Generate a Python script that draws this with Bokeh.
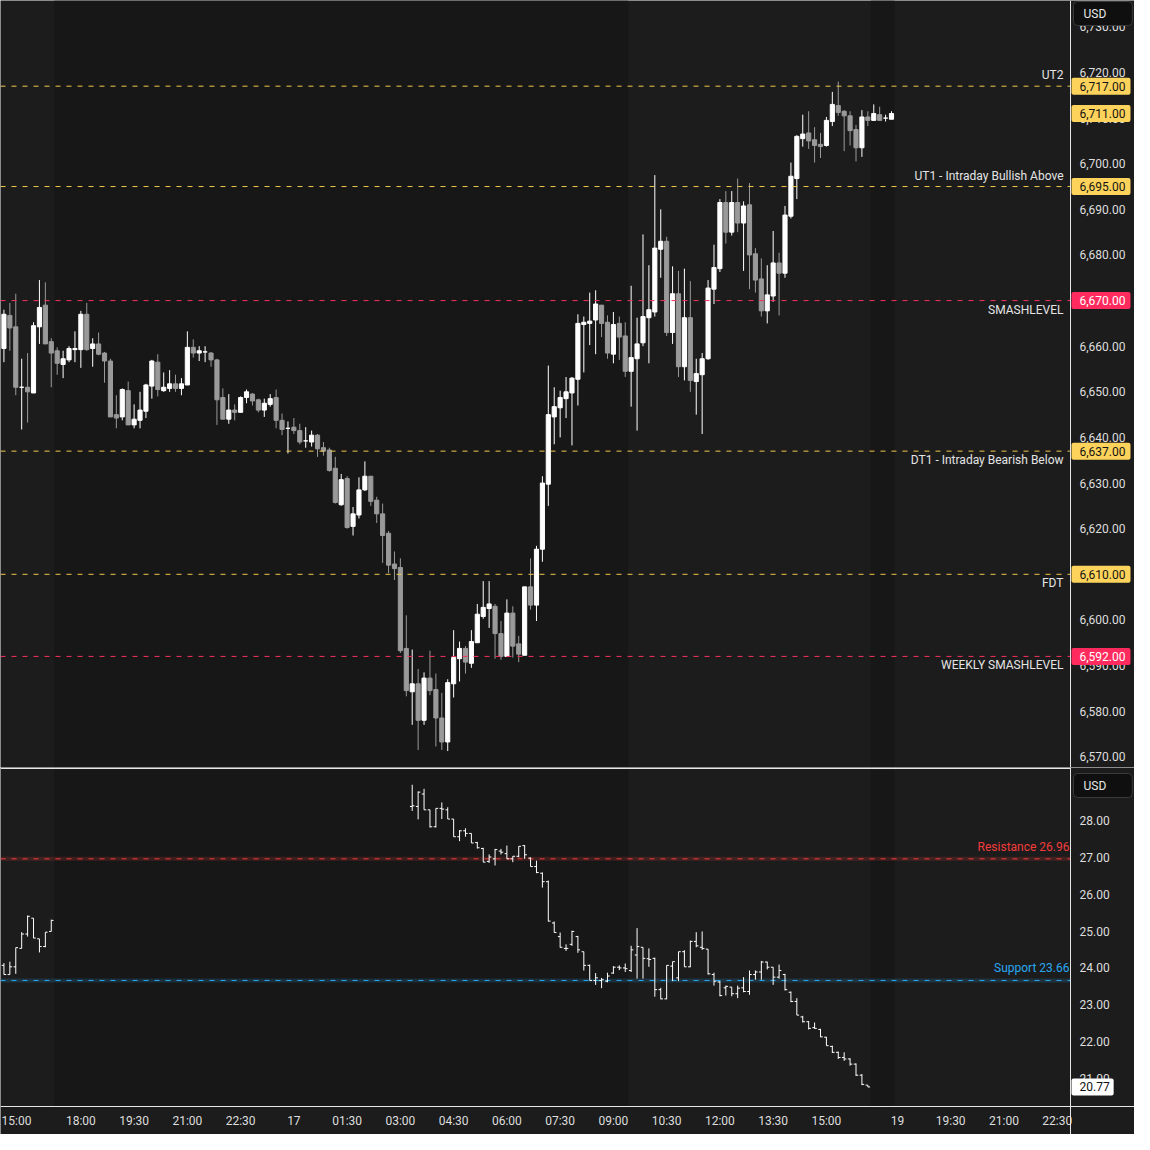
import pandas as pd
import numpy as np
from bokeh.plotting import figure
from bokeh.layouts import column
from bokeh.models import Range1d, Span, Label, ColumnDataSource
from bokeh.core.properties import value
from bokeh.embed import file_html
from bokeh.resources import INLINE

# ---------------- DATA ----------------
# trading sessions shown on the time axis (10-minute bars)
sessions = [("2025-10-16 14:50", "2025-10-16 16:50"),
            ("2025-10-16 18:00", "2025-10-17 16:50"),
            ("2025-10-19 18:00", "2025-10-19 23:50")]

es_first_bar = "2025-10-16 14:50"
es_open = [
    6659.5, 6666.75, 6664.25, 6651.0, 6651.0, 6649.75, 6664.25, 6669.0, 6661.0, 6659.0,
    6656.0, 6657.0, 6659.25, 6659.25, 6667.0, 6659.5, 6660.5, 6658.5, 6656.75, 6645.0,
    6644.5, 6650.25, 6642.75, 6643.75, 6645.75, 6651.25, 6656.5, 6650.25, 6650.75, 6651.75,
    6650.75, 6651.5, 6659.75, 6658.5, 6658.75, 6658.5, 6657.0, 6648.75, 6644.0, 6646.0,
    6645.5, 6648.75, 6649.5, 6648.25, 6646.0, 6647.25, 6648.75, 6643.75, 6642.0, 6642.25,
    6641.5, 6639.25, 6639.0, 6640.5, 6637.75, 6637.25, 6633.25, 6625.25, 6631.0, 6620.5,
    6623.0, 6628.5, 6631.5, 6626.25, 6623.25, 6619.0, 6612.25, 6611.5, 6593.75, 6584.25,
    6586.0, 6578.0, 6587.25, 6584.75, 6578.5, 6573.25, 6586.0, 6591.5, 6593.75, 6590.5,
    6595.0, 6600.75, 6602.5, 6603.0, 6597.0, 6592.0, 6601.5, 6594.75, 6592.25, 6607.25,
    6603.25, 6615.5, 6629.75, 6644.5, 6646.5, 6648.5, 6649.75, 6652.75, 6664.75, 6665.0,
    6665.75, 6669.0, 6665.25, 6658.25, 6665.0, 6662.25, 6654.5, 6657.25, 6660.75, 6666.25,
    6667.5, 6681.25, 6683.0, 6663.0, 6671.5, 6655.5, 6666.25, 6652.25, 6653.75, 6657.25,
    6672.5, 6677.0, 6691.5, 6685.0, 6691.5, 6687.0, 6691.0, 6680.25, 6674.75, 6667.75,
    6671.0, 6678.25, 6676.0, 6688.5, 6696.75, 6705.5, 6706.75, 6705.25, 6704.25, 6704.0,
    6709.25, 6712.75, 6711.5, 6710.5, 6707.5, 6703.5, 6710.25, 6709.5, 6710.75, 6710.0,
    6709.75]
es_high = [
    6668.0, 6669.5, 6671.5, 6657.25, 6658.5, 6665.25, 6674.5, 6674.0, 6661.75, 6659.75,
    6659.0, 6660.0, 6663.25, 6667.75, 6669.5, 6661.75, 6663.0, 6658.75, 6657.25, 6649.25,
    6650.75, 6652.25, 6647.25, 6650.0, 6651.75, 6657.0, 6658.25, 6654.25, 6654.75, 6653.75,
    6653.0, 6663.25, 6661.5, 6660.0, 6660.0, 6658.75, 6657.25, 6650.75, 6649.5, 6647.25,
    6649.0, 6650.5, 6649.75, 6648.5, 6648.5, 6649.5, 6650.5, 6645.25, 6643.5, 6644.25,
    6643.0, 6642.25, 6641.5, 6640.75, 6639.0, 6637.75, 6635.75, 6632.0, 6631.5, 6624.75,
    6631.25, 6634.75, 6631.5, 6627.0, 6625.5, 6619.5, 6615.0, 6613.5, 6601.0, 6593.5,
    6589.25, 6588.5, 6593.25, 6588.25, 6584.0, 6587.0, 6597.75, 6595.25, 6594.25, 6597.75,
    6603.5, 6608.5, 6608.5, 6603.5, 6599.75, 6604.5, 6603.0, 6596.5, 6607.25, 6613.5,
    6616.25, 6631.5, 6655.75, 6651.0, 6650.25, 6653.25, 6653.25, 6667.0, 6666.5, 6671.75,
    6672.25, 6669.0, 6666.75, 6667.5, 6666.5, 6665.25, 6673.25, 6666.25, 6684.5, 6677.75,
    6697.5, 6690.0, 6684.0, 6677.5, 6676.5, 6677.0, 6674.25, 6657.25, 6658.5, 6674.5,
    6682.25, 6692.25, 6694.0, 6694.0, 6696.75, 6691.75, 6695.75, 6681.5, 6679.25, 6677.75,
    6685.25, 6680.5, 6690.75, 6700.25, 6706.25, 6710.75, 6711.5, 6708.0, 6706.75, 6710.25,
    6715.75, 6718.0, 6711.75, 6711.5, 6708.5, 6711.75, 6711.5, 6713.0, 6712.5, 6710.75,
    6711.5]
es_low = [
    6656.5, 6659.0, 6649.25, 6641.75, 6643.25, 6649.75, 6660.5, 6660.5, 6651.0, 6653.75,
    6653.0, 6656.5, 6656.5, 6655.25, 6659.0, 6655.5, 6658.0, 6652.0, 6644.5, 6642.0,
    6643.75, 6642.75, 6642.0, 6642.0, 6644.25, 6648.5, 6649.0, 6650.0, 6650.0, 6650.0,
    6649.25, 6651.5, 6657.5, 6656.75, 6656.5, 6655.5, 6642.75, 6644.0, 6643.0, 6643.75,
    6645.5, 6647.5, 6647.0, 6645.5, 6644.5, 6646.75, 6642.0, 6640.5, 6636.5, 6640.75,
    6638.5, 6637.75, 6638.0, 6635.75, 6636.0, 6632.5, 6625.5, 6625.0, 6620.0, 6618.5,
    6622.25, 6628.25, 6625.0, 6621.25, 6612.5, 6610.25, 6608.75, 6592.75, 6583.25, 6577.0,
    6571.5, 6577.0, 6583.5, 6572.25, 6571.5, 6571.25, 6583.0, 6586.5, 6588.25, 6589.5,
    6595.0, 6600.25, 6598.25, 6591.5, 6591.25, 6592.0, 6591.75, 6590.75, 6592.25, 6602.25,
    6599.75, 6612.75, 6625.0, 6638.5, 6640.0, 6644.25, 6638.25, 6647.0, 6654.25, 6660.25,
    6658.25, 6662.0, 6657.25, 6656.25, 6657.0, 6653.25, 6646.75, 6641.5, 6660.0, 6656.25,
    6666.5, 6675.0, 6662.25, 6660.5, 6653.25, 6652.5, 6650.0, 6645.0, 6640.75, 6657.0,
    6669.25, 6676.25, 6682.5, 6684.25, 6685.0, 6676.5, 6672.5, 6671.75, 6666.5, 6665.0,
    6669.75, 6666.75, 6675.0, 6688.0, 6692.25, 6703.75, 6703.25, 6700.25, 6701.25, 6703.75,
    6708.25, 6710.5, 6702.75, 6704.0, 6700.5, 6701.5, 6708.25, 6709.5, 6709.5, 6709.25,
    6709.75]
es_close = [
    6667.0, 6664.0, 6651.0, 6651.0, 6650.0, 6664.5, 6668.5, 6660.5, 6658.5, 6656.25,
    6657.25, 6659.5, 6659.5, 6667.0, 6659.25, 6660.5, 6658.25, 6656.75, 6644.5, 6644.25,
    6650.5, 6642.75, 6644.0, 6646.0, 6651.5, 6656.75, 6650.5, 6651.0, 6651.75, 6650.75,
    6651.75, 6659.75, 6658.5, 6659.0, 6658.75, 6657.0, 6648.25, 6644.0, 6646.0, 6645.5,
    6648.75, 6650.0, 6648.0, 6646.0, 6647.5, 6648.5, 6643.75, 6641.75, 6642.0, 6641.5,
    6639.0, 6639.25, 6640.5, 6637.5, 6637.0, 6632.75, 6625.75, 6630.75, 6620.25, 6623.25,
    6628.5, 6631.5, 6626.0, 6623.25, 6618.5, 6612.0, 6611.25, 6593.25, 6584.5, 6586.0,
    6578.0, 6587.25, 6584.5, 6578.5, 6573.25, 6586.25, 6591.75, 6593.75, 6590.75, 6595.25,
    6601.25, 6602.75, 6603.5, 6597.0, 6592.0, 6601.5, 6594.25, 6592.5, 6607.25, 6603.25,
    6615.5, 6630.0, 6645.0, 6646.75, 6648.75, 6650.0, 6653.0, 6665.0, 6665.25, 6665.5,
    6669.25, 6665.0, 6658.5, 6664.75, 6662.0, 6654.5, 6657.5, 6660.5, 6666.5, 6668.0,
    6681.5, 6683.0, 6663.0, 6671.5, 6655.5, 6666.25, 6652.5, 6654.0, 6657.25, 6672.75,
    6677.25, 6691.5, 6685.0, 6691.5, 6687.0, 6690.75, 6680.0, 6674.5, 6667.75, 6671.25,
    6678.25, 6676.0, 6688.75, 6697.25, 6706.0, 6706.5, 6705.0, 6704.0, 6703.75, 6709.5,
    6713.0, 6711.25, 6710.5, 6707.25, 6703.5, 6710.25, 6709.5, 6711.0, 6709.5, 6710.0,
    6711.0]

vix_sessions = [("2025-10-16 14:50", "2025-10-16 16:10"),
                ("2025-10-17 03:20", "2025-10-17 16:10")]
vix_open = [
    24.07, 23.82, 24.03, 24.53, 24.92, 25.35, 24.79, 24.58, 24.99,
    28.38, 28.38, 28.72, 28.29, 27.83, 28.33, 28.29, 28.04, 27.56, 27.72,
    27.65, 27.40, 27.24, 26.89, 26.96, 27.17, 27.10, 26.96, 27.03, 27.32,
    26.98, 26.75, 26.57, 26.34,
    25.22, 24.85, 24.53, 24.64, 24.85, 24.44, 24.07, 23.66, 23.66, 23.64,
    23.86, 24.02, 24.00, 23.93, 24.35, 24.56, 24.25, 24.26, 23.41, 23.16,
    24.05, 23.73, 24.44, 24.03, 24.72, 24.56, 24.51, 23.82, 23.62, 23.46,
    23.48, 23.30, 23.46, 23.36, 23.82, 23.89, 24.16, 24.02, 23.75, 23.82,
    23.34, 23.09, 22.67, 22.54, 22.38, 22.33, 22.12, 21.87, 21.71, 21.57,
    21.53, 21.39, 21.09, 20.82]
vix_high = [
    24.13, 24.17, 24.55, 24.97, 25.42, 25.35, 24.79, 24.97, 25.31,
    28.97, 28.79, 28.86, 28.29, 28.33, 28.49, 28.36, 28.04, 27.74, 27.79,
    27.65, 27.42, 27.26, 27.08, 27.23, 27.23, 27.32, 27.03, 27.30, 27.33,
    27.00, 26.91, 26.59, 26.37,
    25.26, 24.96, 24.64, 25.01, 24.87, 24.44, 24.09, 23.86, 23.73, 23.87,
    24.05, 24.07, 24.12, 24.60, 25.08, 24.56, 24.53, 24.28, 23.46, 24.07,
    24.17, 24.44, 24.48, 24.74, 24.97, 24.99, 24.51, 23.87, 23.64, 23.52,
    23.48, 23.52, 23.75, 23.93, 23.93, 24.19, 24.17, 24.02, 24.09, 23.84,
    23.36, 23.18, 22.70, 22.56, 22.52, 22.35, 22.13, 21.89, 21.73, 21.71,
    21.55, 21.41, 21.12, 20.82]
vix_low = [
    23.82, 23.82, 23.84, 24.53, 24.85, 24.81, 24.42, 24.56, 24.99,
    28.26, 28.03, 28.29, 27.81, 27.81, 28.04, 28.04, 27.56, 27.44, 27.56,
    27.39, 27.24, 26.87, 26.85, 26.78, 27.08, 26.96, 26.87, 27.00, 26.96,
    26.75, 26.57, 26.18, 25.26,
    24.96, 24.55, 24.46, 24.60, 24.41, 23.93, 23.66, 23.54, 23.45, 23.61,
    23.84, 23.94, 23.89, 23.89, 23.71, 23.71, 24.03, 23.22, 23.15, 23.15,
    23.64, 23.64, 24.03, 24.02, 24.56, 24.49, 23.82, 23.52, 23.23, 23.25,
    23.23, 23.18, 23.34, 23.27, 23.68, 23.68, 23.96, 23.54, 23.71, 23.39,
    23.07, 22.72, 22.52, 22.33, 22.35, 22.12, 21.89, 21.69, 21.53, 21.48,
    21.35, 21.07, 20.82, 20.77]
vix_close = [
    23.82, 24.03, 24.55, 24.92, 25.40, 24.81, 24.58, 24.97, 25.29,
    28.40, 28.77, 28.29, 27.83, 28.33, 28.31, 28.04, 27.56, 27.72, 27.65,
    27.39, 27.26, 26.87, 27.01, 27.21, 27.14, 26.96, 27.03, 27.30, 27.07,
    26.75, 26.59, 26.34, 25.27,
    24.96, 24.56, 24.53, 24.99, 24.49, 24.07, 23.66, 23.73, 23.68, 23.78,
    24.02, 24.00, 23.98, 24.49, 24.58, 24.26, 24.23, 23.41, 23.16, 24.07,
    24.17, 24.44, 24.03, 24.72, 24.60, 24.53, 23.84, 23.64, 23.25, 23.50,
    23.30, 23.45, 23.36, 23.82, 23.89, 24.16, 24.02, 23.75, 23.93, 23.41,
    23.09, 22.72, 22.54, 22.36, 22.36, 22.13, 21.89, 21.71, 21.57, 21.53,
    21.39, 21.09, 20.84, 20.77]

es_levels = [6717, 6695, 6670, 6637, 6610, 6592]
es_level_names = ["UT2", "UT1 - Intraday Bullish Above", "SMASHLEVEL",
                  "DT1 - Intraday Bearish Below", "FDT", "WEEKLY SMASHLEVEL"]
vix_resistance = 26.96
vix_support = 23.66

es_ticks = [6570, 6580, 6590, 6600, 6610, 6620, 6630, 6640, 6650, 6660,
            6670, 6680, 6690, 6700, 6710, 6720, 6730]
vix_ticks = [21, 22, 23, 24, 25, 26, 27, 28]
time_tick_times = ["2025-10-16 15:00", "2025-10-16 18:00", "2025-10-16 19:30",
                   "2025-10-16 21:00", "2025-10-16 22:30", "2025-10-17 00:00",
                   "2025-10-17 01:30", "2025-10-17 03:00", "2025-10-17 04:30",
                   "2025-10-17 06:00", "2025-10-17 07:30", "2025-10-17 09:00",
                   "2025-10-17 10:30", "2025-10-17 12:00", "2025-10-17 13:30",
                   "2025-10-17 15:00", "2025-10-19 18:00", "2025-10-19 19:30",
                   "2025-10-19 21:00", "2025-10-19 22:30"]
time_tick_labels = ["15:00", "18:00", "19:30", "21:00", "22:30", "17", "01:30",
                    "03:00", "04:30", "06:00", "07:30", "09:00", "10:30", "12:00",
                    "13:30", "15:00", "19", "19:30", "21:00", "22:30"]

# ---------------- LAYOUT / STYLE ----------------
CHART_W = 1070          # plotting area (left of the price scale)
AXIS_W = 64             # price scale
TOTAL_W = CHART_W + AXIS_W
TOP_H = 767
SEP = 2
BOT_H = 337
XAX_H = 28
BG = "#1c1c1c"
ETH_BG = "#171717"
TXT = "#dedede"
AXLINE = "#e6e6e6"
FONT = "Roboto"
UP, DOWN = "#ffffff", "#9a9a9a"
YEL_LINE, YEL_TAG = "#f2c94c", "#fdd35b"
RED_LINE, RED_TAG = "#f7325f", "#ff2b5e"

timeline = pd.DatetimeIndex([])
for a, b in sessions:
    timeline = timeline.append(pd.date_range(a, b, freq="10min"))
loc = {t: k for k, t in enumerate(timeline)}

X0, X1 = -0.58, 180.25          # visible time window (bar positions)
PPU = CHART_W / (X1 - X0)
XR = X1 + AXIS_W / PPU          # right edge incl. price scale
ES_Y = (6567.65, 6735.78)
VIX_Y = (20.24, 29.384)
ppu_es = TOP_H / (ES_Y[1] - ES_Y[0])
ppu_vix = BOT_H / (VIX_Y[1] - VIX_Y[0])
VIX_TOP = VIX_Y[1] + SEP / ppu_vix
VIX_BOTTOM = VIX_Y[0] - XAX_H / ppu_vix     # time scale lives inside the frame

es_start = loc[pd.Timestamp(es_first_bar)]
es_x = np.arange(es_start, es_start + len(es_open))
es_times = timeline[es_start:es_start + len(es_open)]

vix_times = pd.DatetimeIndex([])
for a, b in vix_sessions:
    vix_times = vix_times.append(pd.date_range(a, b, freq="10min"))
vix_x = np.array([loc[t] for t in vix_times])


def make_fig(fh, y0, y1, shade_bottom, shade_top):
    p = figure(frame_width=TOTAL_W, frame_height=fh,
               x_range=Range1d(X0, XR), y_range=Range1d(y0, y1),
               output_backend="svg", toolbar_location=None,
               y_axis_location=None, x_axis_location=None,
               background_fill_color=BG, border_fill_color=BG,
               outline_line_color=None,
               min_border_left=0, min_border_top=0, min_border_right=0,
               min_border_bottom=0)
    p.grid.visible = False
    # extended-hours shading
    minutes = es_times.hour * 60 + es_times.minute
    rth = (minutes >= 570) & (minutes < 975)
    lefts, rights = [], []
    k, n = 0, len(es_x)
    while k < n:
        if not rth[k]:
            j = k
            while j + 1 < n and not rth[j + 1]:
                j += 1
            lefts.append(es_x[k] - 0.5)
            rights.append(es_x[j] + 0.5)
            k = j + 1
        else:
            k += 1
    p.quad(left=lefts, right=rights, bottom=shade_bottom, top=shade_top,
           fill_color=ETH_BG, line_color=None)
    return p


def price_scale(p, ticks, labels):
    p.text(x=[X1 + 9 / PPU] * len(ticks), y=ticks, text=labels,
           text_align="left", text_baseline="middle", text_color=TXT,
           text_font=value(FONT), text_font_size="12px")
    p.add_layout(Span(location=X1, dimension="height", line_color=AXLINE,
                      line_width=1))


# Label padding order: (left, right, top, bottom); anchor = box corner
def tag(p, val, text, bg, fg, right_pad=5):
    p.add_layout(Label(x=X1 + 1 / PPU, y=val, text=text, text_align="left",
                       text_baseline="middle", text_color=fg, text_font=FONT,
                       text_font_size="12px", background_fill_color=bg,
                       padding=(8, right_pad, 4, 4), border_radius=2))


def usd_box(p, y):
    p.add_layout(Label(x=X1 + 3 / PPU, y=y, text="USD",
                       text_align="left", text_baseline="middle",
                       text_color="#e8e8e8", text_font=FONT, text_font_size="12px",
                       background_fill_color="#0f0f0f", border_line_color="#3a3a3a",
                       border_line_width=1, padding=(10, 26, 5, 5), border_radius=4))


# ---------------- TOP: ES candles ----------------
p1 = make_fig(TOP_H, ES_Y[0], ES_Y[1], ES_Y[0], ES_Y[1])
o = np.array(es_open); h = np.array(es_high); l = np.array(es_low); c = np.array(es_close)
colors = [UP if cc >= oo else DOWN for oo, cc in zip(o, c)]
src = ColumnDataSource(dict(x=es_x, o=o, h=h, l=l, c=c,
                            top=np.maximum(o, c), bot=np.minimum(o, c), col=colors))
p1.segment(x0="x", y0="l", x1="x", y1="h", line_color="col", line_width=1, source=src)
p1.vbar(x="x", width=0.7, top="top", bottom="bot", fill_color="col",
        line_color="col", line_width=1, source=src)

is_red = ["SMASH" in nm for nm in es_level_names]
p1.segment(x0=[X0] * len(es_levels), x1=[X1] * len(es_levels), y0=es_levels, y1=es_levels,
           line_color=[RED_LINE if r else YEL_LINE for r in is_red],
           line_dash="5 6", line_width=1)
for lvl, name in zip(es_levels, es_level_names):
    above = name.startswith("UT")
    p1.add_layout(Label(x=X1 - 7 / PPU, y=lvl, text=name, text_align="right",
                        text_baseline="middle", y_offset=11 if above else -9,
                        text_color="#e4e4e4", text_font=FONT,
                        text_font_size="12px"))

price_scale(p1, es_ticks, [f"{t:,.2f}" for t in es_ticks])
for lvl, r in zip(es_levels, is_red):
    tag(p1, lvl, f"{lvl:,.2f}", RED_TAG if r else YEL_TAG, "#ffffff" if r else "#131313")
tag(p1, es_close[-1], f"{es_close[-1]:,.2f}", YEL_TAG, "#131313")
usd_box(p1, ES_Y[1] - 13 / ppu_es)

# ---------------- BOTTOM: VIX bars + time scale ----------------
p2 = make_fig(BOT_H + SEP + XAX_H, VIX_BOTTOM, VIX_TOP, VIX_Y[0], VIX_Y[1])

# separator between the panes and the time-scale line
p2.segment(x0=[X0], x1=[X1], y0=[VIX_Y[1] + 1 / ppu_vix], y1=[VIX_Y[1] + 1 / ppu_vix],
           line_color=AXLINE, line_width=1.2)
p2.segment(x0=[X0], x1=[XR], y0=[VIX_Y[0]], y1=[VIX_Y[0]],
           line_color=AXLINE, line_width=1.2)
tick_pos = [loc[pd.Timestamp(t)] for t in time_tick_times]
label_y = VIX_Y[0] - 14 / ppu_vix
# first label would run past the left edge: pin it to the edge instead
first_left = (tick_pos[0] - X0) * PPU < 16
start = 1 if first_left else 0
if first_left:
    p2.text(x=[X0 + 1 / PPU], y=[label_y], text=[time_tick_labels[0]],
            text_align="left", text_baseline="middle", text_color=TXT,
            text_font=value(FONT), text_font_size="12px")
p2.text(x=tick_pos[start:], y=[label_y] * (len(tick_pos) - start),
        text=time_tick_labels[start:],
        text_align="center", text_baseline="middle", text_color=TXT,
        text_font=value(FONT), text_font_size="12px")

for lvl, col, name in [(vix_resistance, "#f23c3c", "Resistance"),
                       (vix_support, "#2aa8f0", "Support")]:
    p2.segment(x0=[X0], x1=[X1], y0=[lvl], y1=[lvl], line_color=col,
               line_width=4, line_alpha=0.18)
    p2.segment(x0=[X0], x1=[X1], y0=[lvl], y1=[lvl], line_color=col,
               line_dash="5 6", line_width=1)
    p2.add_layout(Label(x=X1 - 1 / PPU, y=lvl, text=f"{name} {lvl:.2f}",
                        text_align="right", text_baseline="middle", y_offset=12,
                        text_color=col, text_font=FONT, text_font_size="12px"))

vo = np.array(vix_open); vh = np.array(vix_high); vl = np.array(vix_low); vc = np.array(vix_close)
tk = 0.38
p2.segment(x0=vix_x, y0=vl, x1=vix_x, y1=vh, line_color="#ffffff", line_width=1)
p2.segment(x0=vix_x - tk, y0=vo, x1=vix_x, y1=vo, line_color="#ffffff", line_width=1)
p2.segment(x0=vix_x, y0=vc, x1=vix_x + tk, y1=vc, line_color="#ffffff", line_width=1)

price_scale(p2, vix_ticks, [f"{t:.2f}" for t in vix_ticks])
tag(p2, vix_close[-1], f"{vix_close[-1]:.2f}", "#ffffff", "#111111", right_pad=4)
usd_box(p2, VIX_Y[1] - 16 / ppu_vix)

layout = column(p1, p2)
open("out.html", "w").write(file_html(layout, INLINE))
